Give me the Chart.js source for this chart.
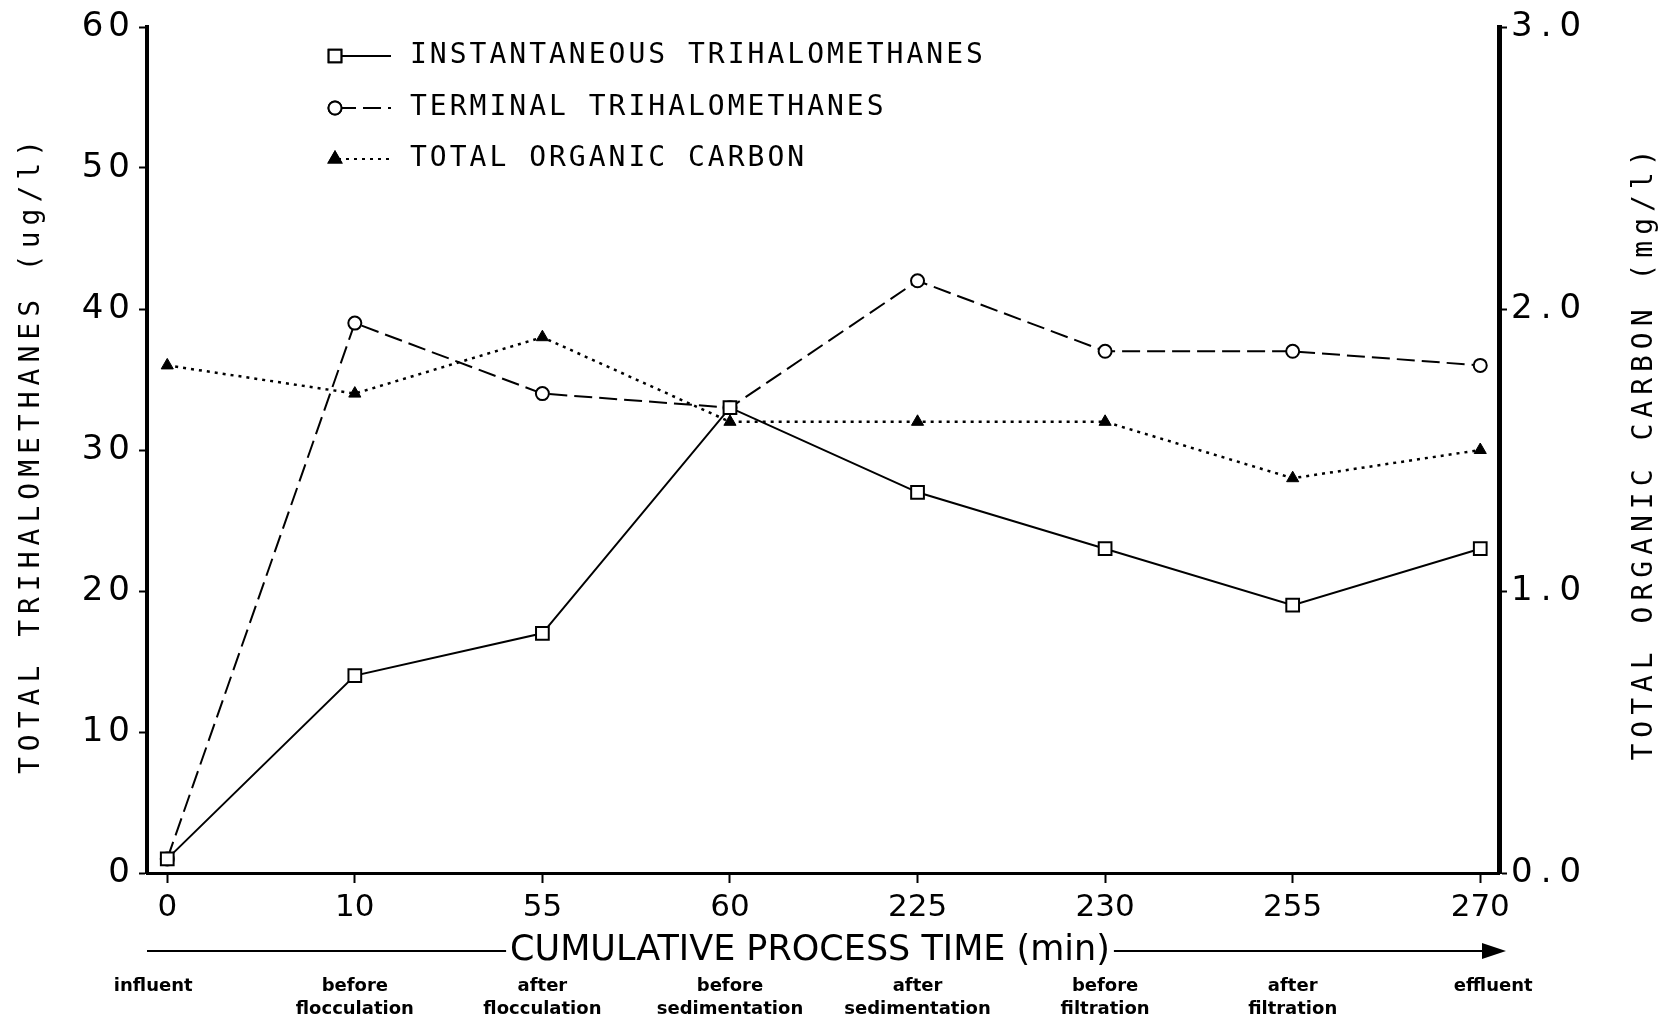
<!DOCTYPE html>
<html>
<head>
<meta charset="utf-8">
<script src="https://cdn.jsdelivr.net/npm/chart.js@4.4.1/dist/chart.umd.min.js"></script>
<style>
    html, body { margin: 0; padding: 0; background: #fff; }
    #wrap { width: 1669px; height: 1022px; position: relative; }
</style>
</head>
<body>
<div id="wrap"><canvas id="thmChart"></canvas></div>
<script>
// process time points (min) and the treatment stage at each one
const timeLabels = ["0", "10", "55", "60", "225", "230", "255", "270"];
const stageTop = ["influent", "before", "after", "before", "after", "before", "after", "effluent"];
const stageBottom = ["", "flocculation", "flocculation", "sedimentation", "sedimentation", "filtration", "filtration", ""];

// ug/l on left axis
const instantTHM = [1, 14, 17, 33, 27, 23, 19, 23];
const terminalTHM = [1, 39, 34, 33, 42, 37, 37, 36];
// mg/l on right axis
const organicCarbon = [1.8, 1.7, 1.9, 1.6, 1.6, 1.6, 1.4, 1.5];

const seriesNames = ["INSTANTANEOUS TRIHALOMETHANES", "TERMINAL TRIHALOMETHANES", "TOTAL ORGANIC CARBON"];
const leftTitle = "TOTAL TRIHALOMETHANES (ug/l)";
const rightTitle = "TOTAL ORGANIC CARBON (mg/l)";
const xTitle = "CUMULATIVE PROCESS TIME (min)";

const toPoints = (arr) => arr.map((v, i) => ({ x: i, y: v }));

const MONO = "'DejaVu Sans Mono', monospace";
const SANS = "'DejaVu Sans', sans-serif";

// draw text with extra spacing between letters, aligned by hand
const spaced = (ctx, text, x, y, sp, align) => {
    ctx.save();
    ctx.letterSpacing = "0px";
    const w = ctx.measureText(text).width + sp * (text.length - 1);
    let x0 = x;
    if (align === "center") x0 = x - w / 2;
    if (align === "right") x0 = x - w;
    ctx.letterSpacing = sp + "px";
    ctx.textAlign = "left";
    ctx.fillText(text, x0, y);
    ctx.restore();
    return w;
};

const decor = {
    id: "decor",
    afterDraw(chart) {
        const { ctx, chartArea: ca, scales } = chart;
        ctx.save();
        ctx.fillStyle = "#000";
        ctx.strokeStyle = "#000";
        ctx.textBaseline = "middle";

        // y tick labels
        ctx.font = "34px " + SANS;
        scales.y.ticks.forEach(t => {
            spaced(ctx, String(t.value), ca.left - 17, scales.y.getPixelForValue(t.value), 5, "right");
        });
        scales.y2.ticks.forEach(t => {
            spaced(ctx, t.value.toFixed(1), ca.right + 12, scales.y2.getPixelForValue(t.value), 8, "left");
        });

        // rotated axis titles
        ctx.font = "28px " + MONO;
        ctx.save();
        ctx.translate(32, 457);
        ctx.rotate(-Math.PI / 2);
        spaced(ctx, leftTitle, 0, 0, 6, "center");
        ctx.restore();
        ctx.save();
        ctx.translate(1645, 455);
        ctx.rotate(-Math.PI / 2);
        spaced(ctx, rightTitle, 0, 0, 6, "center");
        ctx.restore();

        // legend
        const rows = [56, 108, 159];
        const dashes = [[], [18, 7], [3, 5]];
        const styles = ["rect", "circle", "triangle"];
        ctx.font = "28px " + MONO;
        rows.forEach((ry, i) => {
            ctx.save();
            ctx.lineWidth = 2;
            ctx.setLineDash(dashes[i]);
            ctx.beginPath();
            ctx.moveTo(338, ry);
            ctx.lineTo(391, ry);
            ctx.stroke();
            ctx.restore();
            const ds = chart.data.datasets[i];
            ctx.save();
            ctx.fillStyle = ds.pointBackgroundColor;
            ctx.lineWidth = 2;
            Chart.helpers.drawPoint(ctx, { pointStyle: styles[i], radius: ds.pointRadius, borderWidth: 2 }, 335, ry);
            ctx.fill();
            ctx.stroke();
            ctx.restore();
            spaced(ctx, seriesNames[i], 410, ry, 3, "left");
        });

        // x title with arrow
        const ty = 951;
        ctx.font = "35px " + SANS;
        const tw = spaced(ctx, xTitle, 810, ty, 0, "center");
        ctx.lineWidth = 2;
        ctx.beginPath();
        ctx.moveTo(ca.left, ty);
        ctx.lineTo(810 - tw / 2 - 4, ty);
        ctx.moveTo(810 + tw / 2 + 4, ty);
        ctx.lineTo(1490, ty);
        ctx.stroke();
        ctx.beginPath();
        ctx.moveTo(1506, ty);
        ctx.lineTo(1482, ty - 8);
        ctx.lineTo(1482, ty + 8);
        ctx.closePath();
        ctx.fill();

        // stage names under the time ticks
        ctx.font = "bold 18px " + SANS;
        ctx.textAlign = "center";
        stageTop.forEach((s, i) => {
            let x = scales.x.getPixelForValue(i);
            if (i === 0) x -= 14;
            if (i === stageTop.length - 1) x += 13;
            ctx.fillText(s, x, 986);
            if (stageBottom[i]) ctx.fillText(stageBottom[i], x, 1009);
        });
        ctx.restore();
    }
};

new Chart(document.getElementById("thmChart"), {
    type: "line",
    data: {
        datasets: [
            {
                label: seriesNames[0],
                data: toPoints(instantTHM),
                yAxisID: "y",
                borderColor: "#000",
                borderWidth: 2,
                pointStyle: "rect",
                pointRadius: 9,
                pointBorderWidth: 2,
                pointBackgroundColor: "#fff",
                pointBorderColor: "#000"
            },
            {
                label: seriesNames[1],
                data: toPoints(terminalTHM),
                yAxisID: "y",
                borderColor: "#000",
                borderWidth: 2,
                borderDash: [18, 7],
                pointStyle: "circle",
                pointRadius: 6.5,
                pointBorderWidth: 2,
                pointBackgroundColor: "#fff",
                pointBorderColor: "#000"
            },
            {
                label: seriesNames[2],
                data: toPoints(organicCarbon),
                yAxisID: "y2",
                borderColor: "#000",
                borderWidth: 2.5,
                borderDash: [3, 5],
                pointStyle: "triangle",
                pointRadius: 7,
                pointBorderWidth: 1,
                pointBackgroundColor: "#000",
                pointBorderColor: "#000"
            }
        ]
    },
    options: {
        responsive: true,
        maintainAspectRatio: false,
        devicePixelRatio: 1,
        animation: false,
        layout: { padding: { top: 27, left: 0, right: 0, bottom: 0 } },
        plugins: { legend: { display: false }, tooltip: { enabled: false } },
        scales: {
            x: {
                type: "linear",
                min: -0.108,
                max: 7.1,
                afterBuildTicks: (s) => { s.ticks = timeLabels.map((_, i) => ({ value: i })); },
                afterFit: (s) => { s.height = 149; },
                ticks: {
                    callback: (v) => timeLabels[v],
                    color: "#000",
                    font: { family: "DejaVu Sans", size: 31 },
                    padding: 6,
                    maxRotation: 0,
                    autoSkip: false
                },
                grid: { drawOnChartArea: false, drawTicks: true, tickLength: 10, tickWidth: 2, tickColor: "#000" },
                border: { display: true, width: 3, color: "#000" }
            },
            y: {
                position: "left",
                min: 0,
                max: 60,
                afterFit: (s) => { s.width = 147; },
                ticks: { stepSize: 10, display: false },
                grid: { drawOnChartArea: false, drawTicks: true, tickLength: 8, tickWidth: 2, tickColor: "#000" },
                border: { display: true, width: 4, color: "#000" }
            },
            y2: {
                position: "right",
                min: 0,
                max: 3,
                afterFit: (s) => { s.width = 170; },
                ticks: { stepSize: 1, display: false },
                grid: { drawOnChartArea: false, drawTicks: true, tickLength: 8, tickWidth: 2, tickColor: "#000" },
                border: { display: true, width: 5, color: "#000" }
            }
        }
    },
    plugins: [decor]
});
</script>
</body>
</html>
